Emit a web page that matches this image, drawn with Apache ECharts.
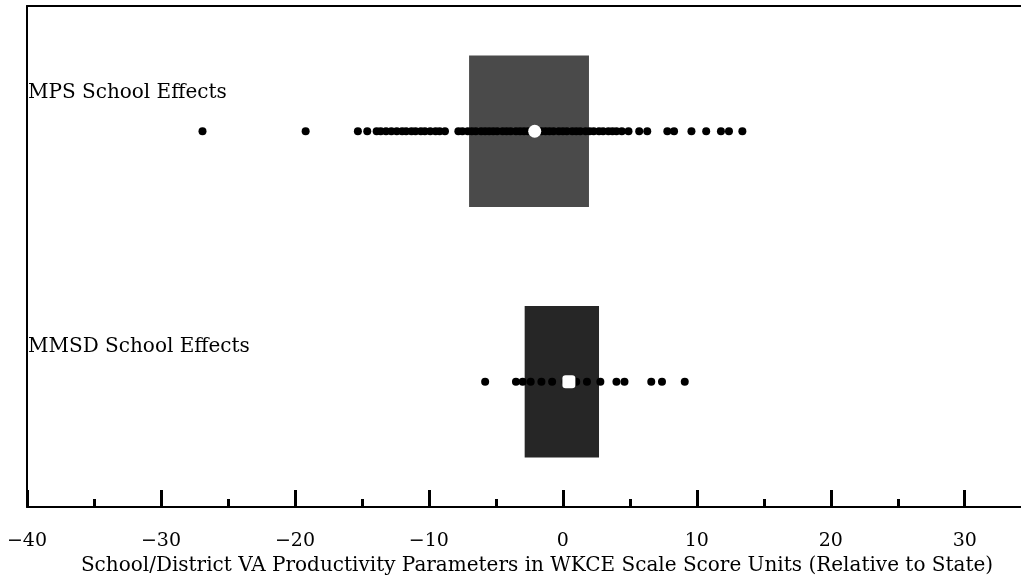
<!DOCTYPE html>
<html>
<head>
<meta charset="utf-8">
<script src="https://cdn.jsdelivr.net/npm/echarts@6/dist/echarts.min.js"></script>
<style>
  html, body { margin: 0; padding: 0; background: #fff; }
  #chart { width: 1021px; height: 577px; }
</style>
</head>
<body>
<div id="chart"></div>
<script>
// group names, row positions on the y scale (0..1) and label rows
var groups = ['MPS School Effects', 'MMSD School Effects'];
var rowY = [0.75, 0.25];
var labelY = [0.827, 0.32];

// interquartile boxes [low, high]
var boxLow = [-7.0, -2.85];
var boxHigh = [1.95, 2.7];
var medians = [-2.1, 0.45];

// school effect estimates
var mpsEffects = [-26.9, -19.2, -15.3, -14.6, -13.9, -13.6, -13.2, -12.8, -12.4, -12.0,
  -11.7, -11.3, -11.0, -10.6, -10.3, -9.9, -9.5, -9.2, -8.8, -7.8, -7.5, -7.1, -6.8,
  -6.5, -6.1, -5.8, -5.5, -5.2, -4.9, -4.5, -4.2, -3.9, -3.5, -3.2, -2.9, -2.6,
  -1.6, -1.3, -1.0, -0.7, -0.3, 0.0, 0.3, 0.7, 1.0, 1.3, 1.7, 2.0, 2.3, 2.7, 3.0,
  3.4, 3.7, 4.0, 4.4, 4.9, 5.7, 6.3, 7.8, 8.3, 9.6, 10.7, 11.8, 12.4, 13.4];
var mmsdEffects = [-5.8, -3.5, -3.0, -2.4, -1.6, -0.8, 0.2, 1.0, 1.8, 2.8, 4.0, 4.6,
  6.6, 7.4, 9.1];

var majorTicks = [-40, -30, -20, -10, 0, 10, 20, 30];
var minorTicks = [-35, -25, -15, -5, 5, 15, 25];
var axisTitle = 'School/District VA Productivity Parameters in WKCE Scale Score Units (Relative to State)';

var myChart = echarts.init(document.getElementById('chart'));

var serif = 'DejaVu Serif';
var boxColors = ['#4a4a4a', '#262626'];
var boxHalf = 0.151;

var boxData = [];
for (var i = 0; i < groups.length; i++) {
    boxData.push([boxLow[i], boxHigh[i], rowY[i]]);
}

var mpsData = mpsEffects.map(function (v) { return [v, rowY[0]]; });
var mmsdData = mmsdEffects.map(function (v) { return [v, rowY[1]]; });
var labelData = groups.map(function (g, i) { return [-40, labelY[i], g]; });

var option = {
    animation: false,
    grid: {
        left: 27,
        right: 0,
        top: 6,
        bottom: 70,
        outerBoundsMode: 'none',
        containLabel: false
    },
    xAxis: [{
        type: 'value',
        min: -40,
        max: 34.2,
        position: 'bottom',
        name: axisTitle,
        nameLocation: 'middle',
        nameGap: 48,
        nameTextStyle: {
            color: '#000',
            fontFamily: serif,
            fontSize: 20,
            padding: [0, 0, 0, 26]
        },
        axisLine: {
            onZero: false,
            lineStyle: { color: '#000', width: 2 }
        },
        axisTick: {
            inside: true,
            length: 17,
            customValues: majorTicks,
            lineStyle: { color: '#000', width: 3 }
        },
        axisLabel: {
            customValues: majorTicks,
            margin: 25,
            color: '#000',
            fontFamily: serif,
            fontSize: 19,
            formatter: function (v) {
                return v < 0 ? '\u2212' + Math.abs(v) : String(v);
            }
        },
        splitLine: { show: false }
    }, {
        type: 'value',
        min: -40,
        max: 34.2,
        position: 'bottom',
        axisLine: { show: false, onZero: false },
        axisTick: {
            inside: true,
            length: 8,
            customValues: minorTicks,
            lineStyle: { color: '#000', width: 3 }
        },
        axisLabel: { show: false },
        splitLine: { show: false }
    }, {
        type: 'value',
        min: -40,
        max: 34.2,
        position: 'top',
        axisLine: { onZero: false, lineStyle: { color: '#000', width: 2 } },
        axisTick: { show: false },
        axisLabel: { show: false },
        splitLine: { show: false }
    }],
    yAxis: {
        type: 'value',
        min: 0,
        max: 1,
        position: 'left',
        axisLine: { show: true, onZero: false, lineStyle: { color: '#000', width: 2 } },
        axisTick: { show: false },
        axisLabel: { show: false },
        splitLine: { show: false }
    },
    series: [{
        type: 'custom',
        z: 1,
        data: boxData,
        renderItem: function (params, api) {
            var p0 = api.coord([api.value(0), api.value(2) + boxHalf]);
            var p1 = api.coord([api.value(1), api.value(2) - boxHalf]);
            return {
                type: 'rect',
                shape: { x: p0[0], y: p0[1], width: p1[0] - p0[0], height: p1[1] - p0[1] },
                style: { fill: boxColors[params.dataIndex] }
            };
        }
    }, {
        type: 'scatter',
        z: 3,
        symbolSize: 8,
        itemStyle: { color: '#000', opacity: 1 },
        data: mpsData
    }, {
        type: 'scatter',
        z: 3,
        symbolSize: 8,
        itemStyle: { color: '#000', opacity: 1 },
        data: mmsdData
    }, {
        type: 'scatter',
        z: 4,
        symbolSize: 13,
        itemStyle: { color: '#fff', opacity: 1 },
        data: [[medians[0], rowY[0]]]
    }, {
        type: 'scatter',
        z: 4,
        symbol: 'roundRect',
        symbolSize: 13,
        itemStyle: { color: '#fff', opacity: 1 },
        data: [[medians[1], rowY[1]]]
    }, {
        type: 'scatter',
        z: 5,
        symbolSize: 0,
        data: labelData,
        itemStyle: { opacity: 1 },
        label: {
            show: true,
            position: 'right',
            distance: 1,
            color: '#000',
            fontFamily: serif,
            fontSize: 20,
            formatter: function (p) { return p.value[2]; }
        }
    }]
};

myChart.setOption(option);
</script>
</body>
</html>
